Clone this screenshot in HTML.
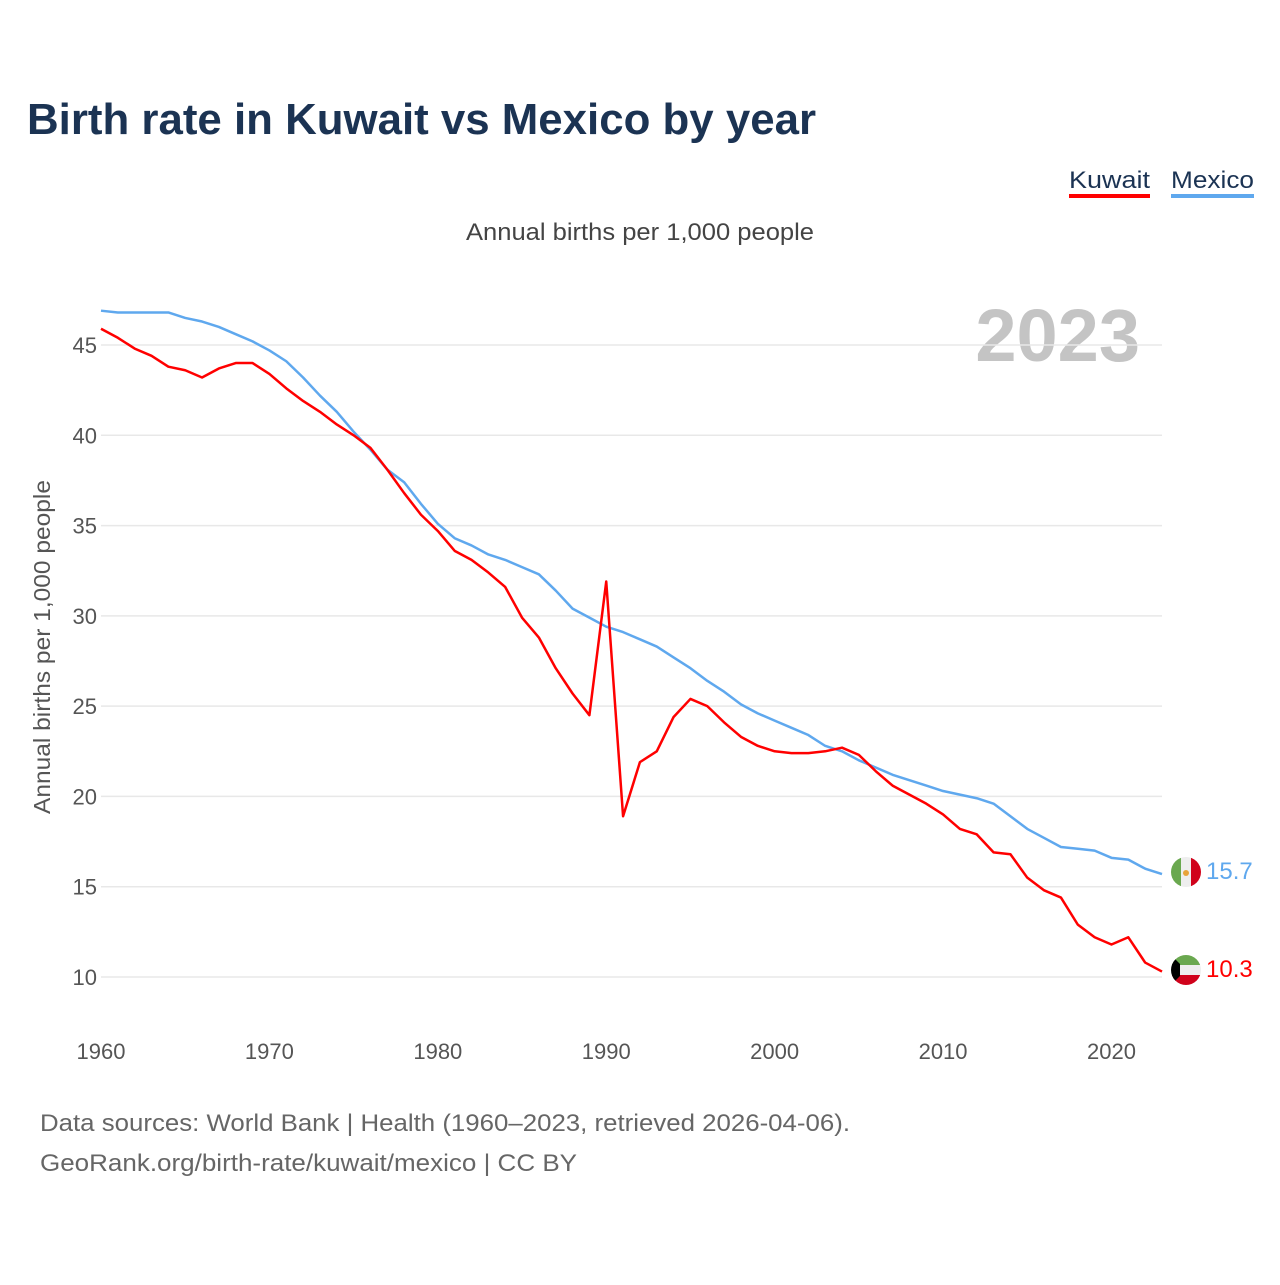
<!DOCTYPE html>
<html><head><meta charset="utf-8"><style>
body{margin:0;background:#fff;width:1280px;height:1280px;overflow:hidden;font-family:"Liberation Sans",sans-serif}
</style></head><body>
<svg width="1280" height="1280" xmlns="http://www.w3.org/2000/svg" font-family="Liberation Sans, sans-serif">
<text x="27" y="134" font-size="44" font-weight="bold" fill="#1b3353" textLength="789" lengthAdjust="spacingAndGlyphs">Birth rate in Kuwait vs Mexico by year</text>
<g><text x="1069" y="188" font-size="24" fill="#1b3353" textLength="81" lengthAdjust="spacingAndGlyphs">Kuwait</text><rect x="1069" y="194" width="81" height="4" fill="#ff0000"/></g>
<g><text x="1171" y="188" font-size="24" fill="#1b3353" textLength="83" lengthAdjust="spacingAndGlyphs">Mexico</text><rect x="1171" y="194" width="83" height="4" fill="#5fa8ee"/></g>
<text x="466" y="240" font-size="24" fill="#444" textLength="348" lengthAdjust="spacingAndGlyphs">Annual births per 1,000 people</text>
<text x="1140" y="361" font-size="74" font-weight="bold" fill="#c4c4c4" text-anchor="end">2023</text>
<text transform="translate(50,814) rotate(-90)" font-size="23" fill="#555" textLength="334" lengthAdjust="spacingAndGlyphs">Annual births per 1,000 people</text>
<g id="grid"></g><g id="yt"></g><g id="xt"></g><g id="lines"></g>
<g><clipPath id="cm"><circle cx="1186" cy="872" r="15"/></clipPath><g clip-path="url(#cm)"><rect x="1171" y="857" width="10" height="30" fill="#6aa84f"/><rect x="1181" y="857" width="10" height="30" fill="#eee"/><rect x="1191" y="857" width="10" height="30" fill="#d0021b"/><circle cx="1186" cy="873" r="3" fill="#e8a33a"/></g></g>
<g><clipPath id="ck"><circle cx="1186" cy="970" r="15"/></clipPath><g clip-path="url(#ck)"><rect x="1171" y="955" width="30" height="10" fill="#6aa84f"/><rect x="1171" y="965" width="30" height="10" fill="#eee"/><rect x="1171" y="975" width="30" height="10" fill="#d0021b"/><polygon points="1171,955 1180,964 1180,976 1171,985" fill="#000"/></g></g>
<text x="1206" y="879" font-size="24" fill="#5fa8ee">15.7</text>
<text x="1206" y="977" font-size="24" fill="#ff0000">10.3</text>
<text x="40" y="1131" font-size="24" fill="#666" textLength="810" lengthAdjust="spacingAndGlyphs">Data sources: World Bank | Health (1960–2023, retrieved 2026-04-06).</text>
<text x="40" y="1171" font-size="24" fill="#666" textLength="537" lengthAdjust="spacingAndGlyphs">GeoRank.org/birth-rate/kuwait/mexico | CC BY</text>
</svg>
<script>
const years=[];for(let y=1960;y<=2023;y++)years.push(y);
const kuwait=[45.9,45.4,44.8,44.4,43.8,43.6,43.2,43.7,44.0,44.0,43.4,42.6,41.9,41.3,40.6,40.0,39.3,38.1,36.8,35.6,34.7,33.6,33.1,32.4,31.6,29.9,28.8,27.1,25.7,24.5,31.9,18.9,21.9,22.5,24.4,25.4,25.0,24.1,23.3,22.8,22.5,22.4,22.4,22.5,22.7,22.3,21.4,20.6,20.1,19.6,19.0,18.2,17.9,16.9,16.8,15.5,14.8,14.4,12.9,12.2,11.8,12.2,10.8,10.3];
const mexico=[46.9,46.8,46.8,46.8,46.8,46.5,46.3,46.0,45.6,45.2,44.7,44.1,43.2,42.2,41.3,40.2,39.2,38.1,37.4,36.2,35.1,34.3,33.9,33.4,33.1,32.7,32.3,31.4,30.4,29.9,29.4,29.1,28.7,28.3,27.7,27.1,26.4,25.8,25.1,24.6,24.2,23.8,23.4,22.8,22.5,22.0,21.6,21.2,20.9,20.6,20.3,20.1,19.9,19.6,18.9,18.2,17.7,17.2,17.1,17.0,16.6,16.5,16.0,15.7];
const yTicks=[10,15,20,25,30,35,40,45];
const xTicks=[1960,1970,1980,1990,2000,2010,2020];
const NS="http://www.w3.org/2000/svg";
const X=v=>101+(v-1960)*(1162-101)/63;
const Y=v=>977-(v-10)*(977-345)/35;
function mk(t,a,p){const e=document.createElementNS(NS,t);for(const k in a)e.setAttribute(k,a[k]);document.getElementById(p).appendChild(e);return e;}
yTicks.forEach(v=>{
 const l=mk('line',{x1:101,x2:1162,y1:Y(v),y2:Y(v),stroke:'#e8e8e8','stroke-width':1.5},'grid');
 
 
 const t=mk('text',{x:97,y:Y(v)+8,'font-size':22,fill:'#555','text-anchor':'end'},'yt');t.textContent=v;
 
 
});
xTicks.forEach(v=>{
 const t=mk('text',{x:X(v),y:1059,'font-size':22,fill:'#555','text-anchor':'middle'},'xt');t.textContent=v;
 
 
});
function line(d,c,n){
 const p=mk('polyline',{points:d.map((v,i)=>X(years[i])+','+Y(v)).join(' '),fill:'none',stroke:c,'stroke-width':2.5,'stroke-linejoin':'round'},'lines');
 
 
}
line(mexico,'#5fa8ee','line-mexico');
line(kuwait,'#ff0000','line-kuwait');
</script>
</body></html>
